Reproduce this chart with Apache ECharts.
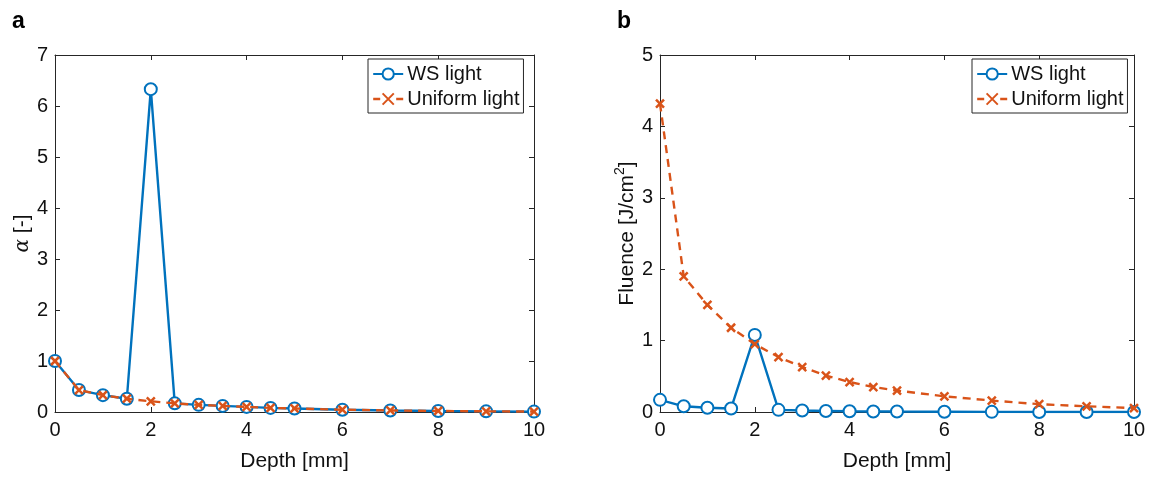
<!DOCTYPE html>
<html>
<head>
<meta charset="utf-8">
<script src="https://cdn.jsdelivr.net/npm/echarts@6/dist/echarts.min.js"></script>
<style>
html,body{margin:0;padding:0;background:#fff;}
#c{width:1165px;height:477px;}
</style>
</head>
<body>
<div id="c"></div>
<script>
const depth = [0, 0.5, 1, 1.5, 2, 2.5, 3, 3.5, 4, 4.5, 5, 6, 7, 8, 9, 10];
const alphaWS = [1.0, 0.43, 0.33, 0.26, 6.33, 0.17, 0.14, 0.12, 0.10, 0.08, 0.07, 0.045, 0.03, 0.02, 0.013, 0.008];
const alphaUniform = [1.0, 0.43, 0.33, 0.26, 0.21, 0.17, 0.14, 0.12, 0.10, 0.08, 0.07, 0.045, 0.03, 0.02, 0.013, 0.008];
const fluenceWS = [0.17, 0.08, 0.06, 0.05, 1.08, 0.03, 0.02, 0.015, 0.01, 0.008, 0.006, 0.004, 0.002, 0.001, 0.001, 0.0];
const fluenceUniform = [4.32, 1.90, 1.50, 1.18, 0.95, 0.77, 0.63, 0.51, 0.42, 0.35, 0.30, 0.22, 0.16, 0.11, 0.08, 0.055];
const xTicks = [0, 2, 4, 6, 8, 10];
const seriesNames = ['WS light', 'Uniform light'];

const BLUE = '#0072BD', ORANGE = '#D95319', AX = '#262626';
const FONT = 'Liberation Sans';
const pairs = (ys) => depth.map((x, i) => [x, ys[i]]);
const crossPath = 'path://M0,0L10,10M10,0L0,10';

function xAxes(gi) {
  const base = {
    type: 'value', gridIndex: gi, min: 0, max: 10, interval: 2,
    axisLine: { show: true, onZero: false, lineStyle: { color: AX, width: 1 } },
    axisTick: { show: true, inside: true, length: 5, lineStyle: { color: AX } },
    splitLine: { show: false }
  };
  return [
    Object.assign({}, base, {
      position: 'bottom',
      axisLabel: { color: '#111', fontSize: 20, fontFamily: FONT, margin: 8 },
      name: 'Depth [mm]', nameLocation: 'middle', nameGap: 39,
      nameTextStyle: { color: '#111', fontSize: 21, fontFamily: FONT }
    }),
    Object.assign({}, base, { position: 'top', axisLabel: { show: false } })
  ];
}
function yAxes(gi, max, name, gap) {
  const base = {
    type: 'value', gridIndex: gi, min: 0, max: max, interval: 1,
    axisLine: { show: true, onZero: false, lineStyle: { color: AX, width: 1 } },
    axisTick: { show: true, inside: true, length: 5, lineStyle: { color: AX } },
    splitLine: { show: false }
  };
  return [
    Object.assign({}, base, {
      position: 'left',
      axisLabel: { color: '#111', fontSize: 20, fontFamily: FONT, margin: 7 },
      name: name, nameLocation: 'middle', nameGap: gap, nameRotate: 90,
      nameTextStyle: {
        color: '#111', fontSize: 21, fontFamily: FONT,
        rich: {
          g: { fontFamily: 'DejaVu Serif', fontStyle: 'italic', fontSize: 20, color: '#111', lineHeight: 28 },
          n: { fontFamily: FONT, fontSize: 21, color: '#111', lineHeight: 28 },
          sup: { fontFamily: FONT, fontSize: 14, color: '#111', verticalAlign: 'top', lineHeight: 16 }
        }
      }
    }),
    Object.assign({}, base, { position: 'right', axisLabel: { show: false } })
  ];
}
function wsSeries(gi, ys) {
  return {
    name: seriesNames[0], type: 'line', xAxisIndex: gi * 2, yAxisIndex: gi * 2,
    data: pairs(ys), symbol: 'emptyCircle', symbolSize: 12,
    lineStyle: { color: BLUE, width: 2.4 },
    itemStyle: { color: BLUE, borderColor: BLUE, borderWidth: 2.4 },
    animation: false, z: 2
  };
}
function uniSeries(gi, ys) {
  return {
    name: seriesNames[1], type: 'line', xAxisIndex: gi * 2, yAxisIndex: gi * 2,
    data: pairs(ys), symbol: crossPath, symbolSize: 8,
    lineStyle: { color: ORANGE, width: 2.4, type: [8, 6] },
    itemStyle: { color: ORANGE, borderColor: ORANGE, borderWidth: 2.5 },
    animation: false, z: 3
  };
}
function legend(left) {
  return {
    left: left, top: 59, orient: 'vertical',
    data: [
      { name: seriesNames[0] },
      { name: seriesNames[1], lineStyle: { type: [7, 16], color: ORANGE, width: 2.4 } }
    ],
    borderColor: AX, borderWidth: 1, padding: [5, 4, 4, 4], itemGap: 5,
    itemWidth: 30, itemHeight: 14, backgroundColor: '#fff',
    textStyle: { color: '#111', fontSize: 20, fontFamily: FONT, padding: [0, 0, 0, -1] },
    selectedMode: false
  };
}

const chart = echarts.init(document.getElementById('c'), null, { renderer: 'canvas' });
chart.setOption({
  backgroundColor: '#fff',
  animation: false,
  title: [
    { text: 'a', left: 7, top: 5, textStyle: { fontSize: 23, fontWeight: 'bold', fontFamily: FONT, color: '#000' } },
    { text: 'b', left: 612, top: 5, textStyle: { fontSize: 23, fontWeight: 'bold', fontFamily: FONT, color: '#000' } }
  ],
  grid: [
    { left: 55, right: 631, top: 55, bottom: 64 },
    { left: 660, right: 31, top: 55, bottom: 64 }
  ],
  legend: [legend(368), legend(972)],
  xAxis: xAxes(0).concat(xAxes(1)),
  yAxis: yAxes(0, 7, '{g|α} {n|[-]}', 18).concat(yAxes(1, 5, '{n|Fluence [J/cm}{sup|2}{n|]}', 16)),
  series: [
    wsSeries(0, alphaWS), uniSeries(0, alphaUniform),
    wsSeries(1, fluenceWS), uniSeries(1, fluenceUniform)
  ]
});
</script>
</body>
</html>
